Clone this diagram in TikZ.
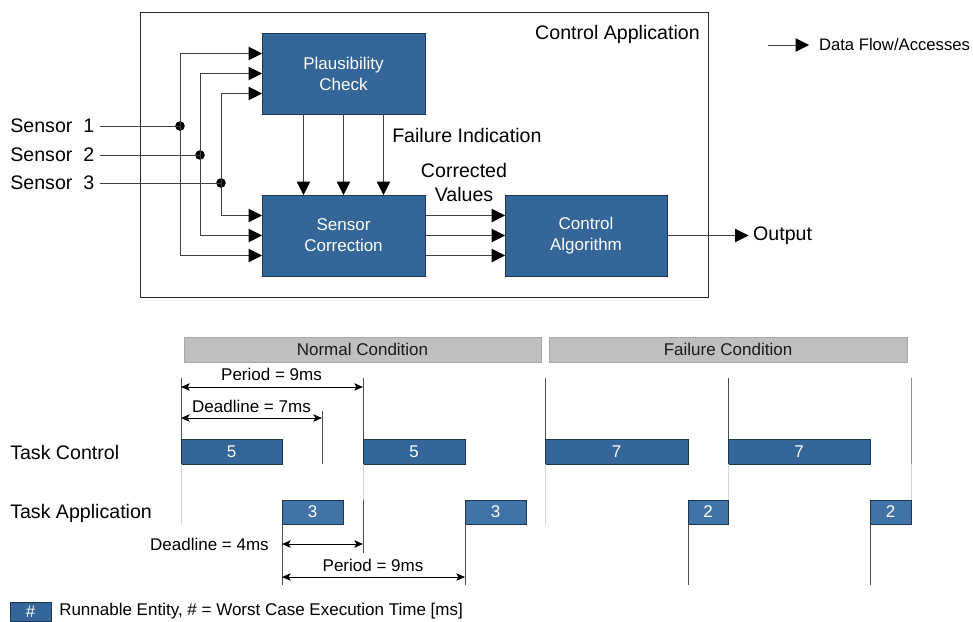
\documentclass[tikz,border=0pt]{standalone}
\usepackage{fontspec}
\setmainfont{Liberation Sans}
\usetikzlibrary{arrows.meta}
\definecolor{boxblue}{HTML}{346699}
\definecolor{appblue}{HTML}{4273A7}
\definecolor{boxline}{HTML}{1F3550}
\definecolor{condgray}{HTML}{BFBFBF}
\definecolor{condline}{HTML}{A8A8A8}
\definecolor{gridline}{HTML}{4D4D4D}
\definecolor{midgrid}{HTML}{8C8C8C}
\definecolor{lightgrid}{HTML}{D4D4D4}
\definecolor{wirecol}{HTML}{404040}
\begin{document}
\begin{tikzpicture}[x=0.75pt,y=-0.75pt,
  bigfont/.style={font=\fontsize{14.7}{17.4}\selectfont},
  smallfont/.style={font=\fontsize{12.75}{15.75}\selectfont},
  legfont/.style={font=\fontsize{12.5}{15}\selectfont},
  blk/.style={draw=boxline, fill=boxblue, text=white, smallfont, align=center,
    inner sep=0pt, outer sep=0pt, line width=0.6pt},
  tcbar/.style={blk, minimum height=25*0.75pt},
  tabar/.style={blk, fill=appblue, minimum height=24*0.75pt},
  cond/.style={draw=condline, fill=condgray, smallfont, text=black!90,
    inner sep=0pt, outer sep=0pt, minimum height=25*0.75pt, line width=0.6pt},
  lbl/.style={bigfont, inner sep=0pt},
  wire/.style={draw=wirecol, line width=0.75pt},
  arr/.style={wire, -{Triangle[length=10pt,width=10pt,color=black]}},
  dim/.style={draw=black, line width=0.75pt,
    {Stealth[length=6.5pt,width=5.6pt,inset=1.5pt]}-{Stealth[length=6.5pt,width=5.6pt,inset=1.5pt]}},
  grid/.style={draw=gridline, line width=0.75pt},
  mgrid/.style={draw=midgrid, line width=0.75pt},
  lgrid/.style={draw=lightgrid, line width=0.75pt},
  dot/.style={circle, fill=black, inner sep=0pt, minimum size=7.2pt}
]
\useasboundingbox (0,0) rectangle (973,621);

% ---------- top block diagram ----------
\node[draw=black!85, line width=0.6pt, inner sep=0pt, outer sep=0pt,
  minimum width=568*0.75pt, minimum height=285*0.75pt] (app) at (424,154.5) {};
\node[lbl, anchor=east] (applbl) at (700,34) {Control Application};

\node[blk, minimum width=163*0.75pt, minimum height=81*0.75pt] (pc) at (343.5,73.5) {Plausibility\\Check};
\node[blk, minimum width=163*0.75pt, minimum height=81*0.75pt] (sc) at (343.5,235.5) {Sensor\\Correction};
\node[blk, minimum width=162*0.75pt, minimum height=81*0.75pt] (ca) at (586,235.5) {Control\\Algorithm};

\node[lbl, anchor=west, outer xsep=4pt] (s1) at (5,126) {Sensor\ \ 1};
\node[lbl, anchor=west, outer xsep=4pt] (s2) at (5,155) {Sensor\ \ 2};
\node[lbl, anchor=west, outer xsep=4pt] (s3) at (5,183) {Sensor\ \ 3};

\node[dot] (d1) at (180,126) {};
\node[dot] (d2) at (200,155) {};
\node[dot] (d3) at (221,183) {};

\draw[wire] (s1.east) -- (d1.center);
\draw[wire] (s2.east) -- (d2.center);
\draw[wire] (s3.east) -- (d3.center);

\draw[arr] (d1.center) |- ([yshift=15pt]pc.west);
\draw[arr] (d2.center) |- (pc.west);
\draw[arr] (d3.center) |- ([yshift=-15pt]pc.west);
\draw[arr] (d1.center) |- ([yshift=-15pt]sc.west);
\draw[arr] (d2.center) |- (sc.west);
\draw[arr] (d3.center) |- ([yshift=15pt]sc.west);

\draw[arr] ([xshift=-30pt]pc.south) -- ([xshift=-30pt]sc.north);
\draw[arr] (pc.south) -- (sc.north);
\draw[arr] ([xshift=30pt]pc.south) -- ([xshift=30pt]sc.north);

\node[lbl, anchor=west] (fi) at (392,135) {Failure Indication};
\node[lbl, align=center] (cv) at (464,182.5) {Corrected\\Values};

\draw[arr] ([yshift=15pt]sc.east) -- ([yshift=15pt]ca.west);
\draw[arr] (sc.east) -- (ca.west);
\draw[arr] ([yshift=-15pt]sc.east) -- ([yshift=-15pt]ca.west);

\node[lbl, anchor=west, outer xsep=3.5pt] (out) at (748.5,235.5) {Output};
\draw[arr] (ca.east) -- (out.west);

\coordinate (lgs) at (768,45);
\node[legfont, anchor=west, inner sep=0pt, outer xsep=7.5pt] (lgt) at (809,45) {Data Flow/Accesses};
\draw[arr] (lgs) -- (lgt.west);

% ---------- bottom timing diagram ----------
\node[cond, minimum width=357*0.75pt] (nc) at (362.5,349.5) {Normal Condition};
\node[cond, minimum width=358*0.75pt] (fc) at (728,349.5) {Failure Condition};

\node[lbl, anchor=west] (tcl) at (10,452) {Task Control};
\node[lbl, anchor=west] (tal) at (10,513) {Task Application};

\coordinate (g1) at (181,378);
\coordinate (g2) at (363,378);
\coordinate (g3) at (545,378);
\coordinate (g4) at (728,378);
\coordinate (g5) at (911,378);
\coordinate (g5b) at (911,464);
\coordinate (dl7t) at (322,411);
\coordinate (dl7b) at (322,464);
\coordinate (g2c) at (363,500);
\coordinate (g2d) at (363,553);

\node[tcbar, minimum width=101*0.75pt] (tc1) at (231.5,451.5) {5};
\node[tcbar, minimum width=102*0.75pt] (tc2) at (414,451.5) {5};
\node[tcbar, minimum width=143*0.75pt] (tc3) at (616.5,451.5) {7};
\node[tcbar, minimum width=142*0.75pt] (tc4) at (799,451.5) {7};

\node[tabar, minimum width=61*0.75pt] (ta1) at (312.5,512) {3};
\node[tabar, minimum width=61*0.75pt] (ta2) at (495.5,512) {3};
\node[tabar, minimum width=40*0.75pt] (ta3) at (708,512) {2};
\node[tabar, minimum width=41*0.75pt] (ta4) at (890.5,512) {2};

\draw[grid] (g1) -- (tc1.north west);
\draw[lgrid] (tc1.south west) -- ++(0,60);
\draw[grid] (dl7t) -- (dl7b);
\draw[grid] (g2) -- (tc2.north west);
\draw[lgrid] (tc2.south west) -- (g2c);
\draw[grid] (g2c) -- (g2d);
\draw[grid] (ta1.south west) -- ++(0,61);
\draw[grid] (ta2.south west) -- ++(0,61);
\draw[grid] (g3) -- (tc3.north west);
\draw[lgrid] (tc3.south west) -- ++(0,60);
\draw[grid] (ta3.south west) -- ++(0,61);
\draw[grid] (g4) -- (tc4.north west);
\draw[lgrid] (tc4.south west) -- (ta3.north east);
\draw[grid] (ta4.south west) -- ++(0,61);
\draw[mgrid] (g5) -- (g5b);
\draw[lgrid] (g5b) -- (ta4.north east);

\coordinate (p1a) at (181,387);
\coordinate (p1b) at (363,387);
\coordinate (d7a) at (181,418);
\coordinate (d7b) at (322,418);
\coordinate (d4a) at (282,544);
\coordinate (d4b) at (363,544);
\coordinate (p2a) at (282,577);
\coordinate (p2b) at (465,577);

\draw[dim] (p1a) -- (p1b);
\draw[dim] (d7a) -- (d7b);
\draw[dim] (d4a) -- (d4b);
\draw[dim] (p2a) -- (p2b);

\node[smallfont, inner sep=0pt] (p1l) at (271.5,374) {Period = 9ms};
\node[smallfont, inner sep=0pt] (d7l) at (251.5,406) {Deadline = 7ms};
\node[smallfont, inner sep=0pt, anchor=east] (d4l) at (269,544) {Deadline = 4ms};
\node[smallfont, inner sep=0pt] (p2l) at (373,565) {Period = 9ms};

\node[blk, minimum width=41*0.75pt, minimum height=19*0.75pt] (leg) at (30.5,611.5) {\#};
\node[smallfont, inner sep=0pt, anchor=west] (legt) at (59,611.5) {Runnable Entity, \# = Worst Case Execution Time [ms]};
\end{tikzpicture}
\end{document}
